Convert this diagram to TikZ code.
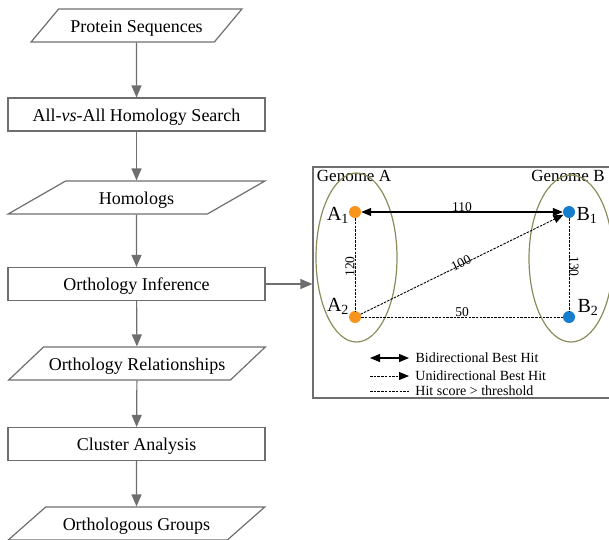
\documentclass[tikz,border=0pt]{standalone}
\usepackage{fontspec}
\setmainfont{Liberation Serif}
\usetikzlibrary{shapes.geometric,arrows.meta}

\definecolor{flowgray}{RGB}{110,110,110}
\definecolor{genome}{RGB}{140,140,90}
\definecolor{orthA}{RGB}{247,148,30}
\definecolor{orthB}{RGB}{20,125,205}

\begin{document}
\begin{tikzpicture}[x=1pt,y=-1pt,
  process/.style={draw=flowgray, line width=1.2pt, minimum width=257pt,
    minimum height=33pt, inner sep=0pt, text height=16pt, text depth=3pt,
    font=\fontsize{18}{20}\selectfont},
  data/.style={process, trapezium, trapezium stretches=true,
    trapezium left angle=32, trapezium right angle=148},
  flow/.style={draw=flowgray, line width=1.2pt, -{Triangle[width=10pt,length=12pt]}},
  dot/.style={circle, fill=#1, minimum size=12pt, inner sep=0pt},
  glabel/.style={font=\fontsize{20}{22}\selectfont, inner sep=0pt},
  elabel/.style={font=\fontsize{13.5}{15}\selectfont, inner sep=0pt},
  legend/.style={font=\fontsize{14}{16}\selectfont, inner sep=0pt, anchor=west},
  best/.style={line width=1.2pt, {Triangle[width=8pt,length=10pt]}-{Triangle[width=8pt,length=10pt]}},
  uni/.style={line width=0.9pt, dash pattern=on 2.5pt off 1.2pt, -{Triangle[width=8pt,length=10pt]}},
  score/.style={line width=0.9pt, dash pattern=on 2.5pt off 1.2pt}]

  \useasboundingbox (0,0) rectangle (609,539);

  % flow chart
  \node[data, minimum width=211pt, trapezium left angle=39, trapezium right angle=141]
    (seq) at (136.5,25.5) {Protein Sequences};
  \node[process] (search) at (136.5,114.5) {All-\textit{vs}-All Homology Search};
  \node[data] (hom) at (136.5,197.5) {Homologs};
  \node[process] (infer) at (136.5,284) {Orthology Inference};
  \node[data, trapezium left angle=30, trapezium right angle=150]
    (rel) at (137,363.5) {Orthology Relationships};
  \node[process] (clust) at (136.5,444) {Cluster Analysis};
  \node[data] (groups) at (136.5,523.5) {Orthologous Groups};

  % flow arrows
  \draw[flow] (seq) -- (search);
  \draw[flow] (search) -- (hom);
  \draw[flow] (hom) -- (infer);
  \draw[flow] (infer) -- (rel);
  \draw[flow] (rel) -- (clust);
  \draw[flow] (clust) -- (groups);

  % inference panel
  \node[draw=flowgray, line width=1.2pt, minimum width=300pt, minimum height=231pt,
    inner sep=0pt] (panel) at (463,282.5) {};
  \draw[flow] (infer.east) -- (infer.east -| panel.west);

  \node[font=\fontsize{17}{19}\selectfont, inner sep=0pt] (nameA) at (354,176) {Genome A};
  \node[font=\fontsize{17}{19}\selectfont, inner sep=0pt] (nameB) at (568,176) {Genome B};
  \node[ellipse, draw=genome, line width=1.2pt, minimum width=81pt, minimum height=169pt]
    (genA) at (356.5,257.5) {};
  \node[ellipse, draw=genome, line width=1.2pt, minimum width=84pt, minimum height=167pt]
    (genB) at (571,258.5) {};

  % genes
  \node[dot=orthA] (a1) at (355,212) {};
  \node[dot=orthA] (a2) at (355,317) {};
  \node[dot=orthB] (b1) at (569,212) {};
  \node[dot=orthB] (b2) at (569,317) {};
  \node[glabel] (la1) at (338,215) {A\textsubscript{1}};
  \node[glabel] (la2) at (338,306) {A\textsubscript{2}};
  \node[glabel] (lb1) at (587,215) {B\textsubscript{1}};
  \node[glabel] (lb2) at (588,307) {B\textsubscript{2}};

  % hits
  \draw[best] (a1) -- node[elabel, anchor=base, yshift=1pt] {110} (b1);
  \draw[score] (a1) -- node[elabel, rotate=90, anchor=south, xshift=-2pt] {120} (a2);
  \draw[score] (b1) -- node[elabel, rotate=-90, anchor=south, xshift=2pt] {130} (b2);
  \draw[uni] (a2) -- node[elabel, sloped, anchor=mid] {100} (b1);
  \draw[score] (a2) -- node[elabel, anchor=base, yshift=0.5pt] {50} (b2);

  % legend
  \coordinate (k1) at (370,358);
  \coordinate (k2) at (370,376);
  \coordinate (k3) at (370,391);
  \draw[best] (k1) -- ++(39,0) node[legend, right=6pt] {Bidirectional Best Hit};
  \draw[uni] (k2) -- ++(39,0) node[legend, right=6pt] {Unidirectional Best Hit};
  \draw[score] (k3) -- ++(39,0) node[legend, right=6pt] {Hit score > threshold};

\end{tikzpicture}
\end{document}
